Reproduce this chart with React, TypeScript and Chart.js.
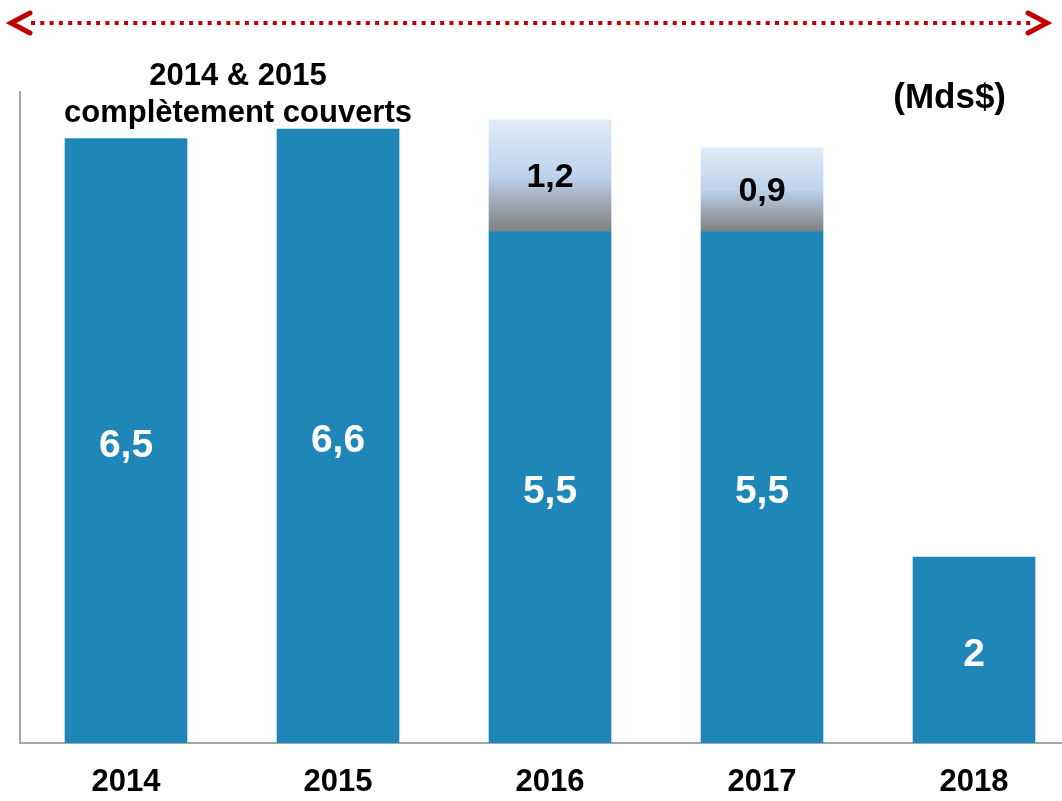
import React, { useEffect, useRef } from "react";
import { Chart, registerables } from "chart.js";

Chart.register(...registerables);

const years = ["2014", "2015", "2016", "2017", "2018"];
const covered = [6.5, 6.6, 5.5, 5.5, 2];
const extra = [null, null, 1.2, 0.9, null];
const coveredLabels = ["6,5", "6,6", "5,5", "5,5", "2"];
const extraLabels = ["", "", "1,2", "0,9", ""];
const unitLabel = "(Mds$)";
const noteLines = ["2014 & 2015", "complètement couverts"];

const FONT = "'Liberation Sans', Arial, sans-serif";
const BLUE = "#1f86b8";
const RED = "#c00000";

const labelsPlugin = {
  id: "valueLabels",
  afterDatasetsDraw(chart: any) {
    const ctx = chart.ctx;
    ctx.save();
    ctx.textAlign = "center";
    ctx.textBaseline = "middle";
    const sets = [
      { idx: 0, texts: coveredLabels, color: "#ffffff", size: 39, dy: 5 },
      { idx: 1, texts: extraLabels, color: "#000000", size: 34, dy: 2 },
    ];
    sets.forEach((s) => {
      const meta = chart.getDatasetMeta(s.idx);
      meta.data.forEach((el: any, i: number) => {
        const t = s.texts[i];
        if (!t) return;
        ctx.fillStyle = s.color;
        ctx.font = `bold ${s.size}px ${FONT}`;
        ctx.fillText(t, el.x, (el.y + el.base) / 2 + s.dy);
      });
    });
    // unit label
    const area = chart.chartArea;
    ctx.fillStyle = "#000";
    ctx.font = `bold 35px ${FONT}`;
    ctx.textAlign = "right";
    ctx.fillText(unitLabel, area.right - 56, area.top + 6);
    // note
    const xs = chart.scales.x;
    const cx = xs.getPixelForValue(0.5) + 6;
    ctx.textAlign = "center";
    ctx.font = `bold 31px ${FONT}`;
    ctx.fillText(noteLines[0], cx, area.top - 16);
    ctx.fillText(noteLines[1], cx, area.top + 21);
    ctx.restore();
  },
  afterDraw(chart: any) {
    const ctx = chart.ctx;
    const w = chart.width;
    const y = 23;
    ctx.save();
    ctx.strokeStyle = RED;
    ctx.lineWidth = 4;
    ctx.setLineDash([4, 5.3]);
    ctx.beginPath();
    ctx.moveTo(31, y);
    ctx.lineTo(w - 30, y);
    ctx.stroke();
    ctx.setLineDash([]);
    ctx.lineWidth = 5;
    ctx.lineCap = "round";
    ctx.lineJoin = "miter";
    ctx.beginPath();
    ctx.moveTo(30, y - 10);
    ctx.lineTo(11, y);
    ctx.lineTo(30, y + 10);
    ctx.stroke();
    ctx.beginPath();
    ctx.moveTo(w - 34, y - 10);
    ctx.lineTo(w - 15, y);
    ctx.lineTo(w - 34, y + 10);
    ctx.stroke();
    ctx.restore();
  },
};

export default function App() {
  const ref = useRef<HTMLCanvasElement>(null);
  useEffect(() => {
    if (!ref.current) return;
    const chart = new Chart(ref.current, {
      type: "bar",
      data: {
        datasets: [
          {
            label: "couvert",
            data: covered.map((v, i) => ({ x: i, y: v })),
            backgroundColor: BLUE,
            barThickness: 122,
          },
          {
            label: "reste",
            data: extra.map((v, i) => ({ x: i, y: v })) as any,
            backgroundColor: (c: any) => {
              const chart = c.chart;
              const ys = chart.scales.y;
              const i = c.dataIndex;
              const v = extra[i];
              if (v == null || !ys || ys.getPixelForValue == null) return "#bcd3eb";
              const top = ys.getPixelForValue(covered[i] + v);
              const bottom = ys.getPixelForValue(covered[i]);
              if (!isFinite(top) || !isFinite(bottom)) return "#bcd3eb";
              const g = chart.ctx.createLinearGradient(0, top, 0, bottom);
              g.addColorStop(0, "#e0ebf6");
              g.addColorStop(0.5, "#bdd3ec");
              g.addColorStop(1, "#7f7f7f");
              return g;
            },
            barThickness: 122,
          },
        ],
      },
      options: {
        animation: false,
        responsive: false,
        maintainAspectRatio: false,
        layout: { padding: { top: 92, left: 20, right: 0, bottom: 3 } },
        plugins: { legend: { display: false }, tooltip: { enabled: false } },
        scales: {
          x: {
            type: "linear",
            stacked: true,
            offset: false,
            min: -0.5,
            max: 4.415,
            grid: { display: false, drawTicks: false, offset: false },
            border: { display: true, color: "#a6a6a6", width: 2 },
            afterBuildTicks: (scale: any) => {
              scale.ticks = years.map((_, i) => ({ value: i }));
            },
            afterFit: (scale: any) => {
              scale.height = 55;
            },
            ticks: {
              padding: 21,
              autoSkip: false,
              maxRotation: 0,
              color: "#000",
              font: { family: FONT, size: 31, weight: "bold" },
              callback: (v: any) => years[Math.round(Number(v))] ?? "",
            },
          },
          y: {
            stacked: true,
            min: 0,
            max: 7,
            grid: { display: false, drawTicks: false },
            border: { display: true, color: "#a6a6a6", width: 2 },
            ticks: { display: false },
          },
        },
      },
      plugins: [labelsPlugin],
    } as any);
    return () => chart.destroy();
  }, []);
  return (
    <div style={{ position: "fixed", left: 0, top: 0, width: 1062, height: 801, background: "#fff", overflow: "hidden" }}>
      <canvas ref={ref} width={1062} height={801} style={{ width: 1062, height: 801, display: "block" }} />
    </div>
  );
}
